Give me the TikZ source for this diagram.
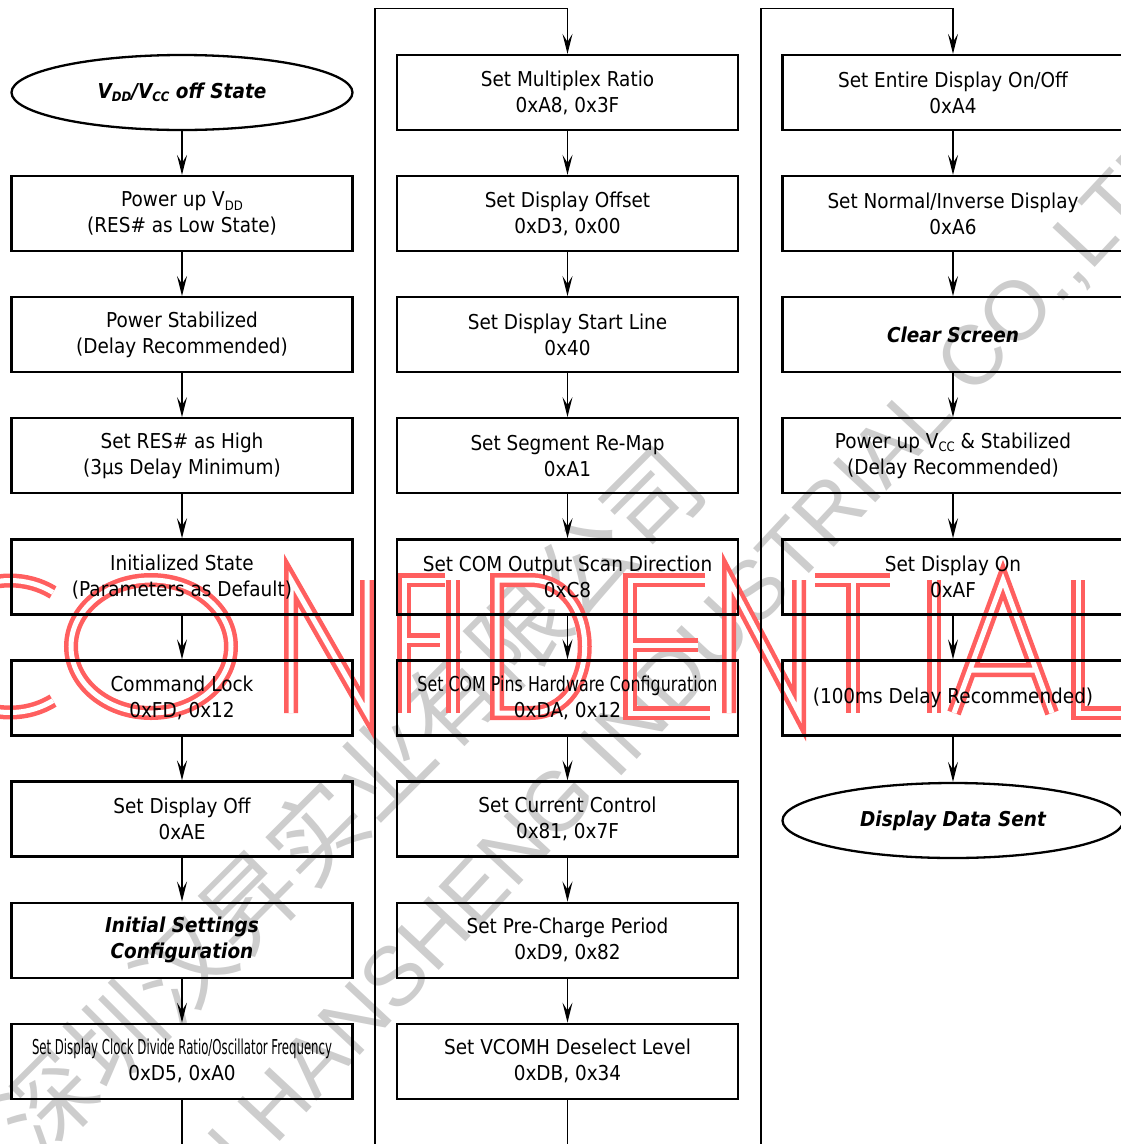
\documentclass[tikz,border=0pt]{standalone}
\usepackage{fontspec}
\usepackage{graphicx}
\setmainfont{DejaVu Sans}[FakeStretch=0.9]
\newfontfamily\cjkfont{Noto Sans CJK SC}
\newfontfamily\wmfont{Liberation Sans}
\usetikzlibrary{arrows.meta,shapes.geometric}
\definecolor{wmred}{RGB}{255,95,95}
\definecolor{wmgray}{RGB}{205,205,205}
\newcommand\subsc[1]{\raisebox{-0.3ex}{\fontsize{13}{13}\selectfont #1}}
\tikzset{
  box/.style={draw, line width=2.3pt, minimum width=341pt, minimum height=75pt, inner sep=0pt, align=center, font=\fontsize{20.5}{26}\selectfont},
  bibox/.style={box, font=\fontsize{20.5}{26}\selectfont\bfseries\itshape},
  term/.style={ellipse, draw, line width=2.3pt, minimum width=341pt, minimum height=75pt, inner sep=0pt, align=center, font=\fontsize{20.5}{26}\selectfont\bfseries\itshape},
  flow/.style={line width=1.6pt, -{Stealth[length=20pt,width=10pt,inset=8pt]}},
  plainline/.style={line width=1.6pt},
  wm/.style={draw=wmred, line width=4.5pt, double=white, double distance=5pt, line join=miter},
}
\begin{document}
\begin{tikzpicture}[x=1pt,y=-1pt]
\useasboundingbox (0,0) rectangle (1121,1144);
\begin{scope}
\clip (0,0) rectangle (1121,1144);
% grey watermark
\node[rotate=45, inner sep=0pt, text=wmgray, font=\cjkfont\fontsize{95}{95}\selectfont] (wmcn) at (350,800) {深圳汉昇实业有限公司};
\node[rotate=47, anchor=west, inner sep=0pt, text=wmgray, font=\wmfont\fontsize{84}{84}\selectfont] (wmen) at (-73,1485) {SHENZHEN HANSHENG INDUSTRIAL CO.,LTD};
% red CONFIDENTIAL
\draw[wm] (10,646.5) ++(55:75 and 66) arc[start angle=55, end angle=305, x radius=75, y radius=66];
\draw[wm] (151,646.5) ellipse[x radius=80, y radius=66.5];
\draw[wm] (291,713)--(291,580)--(367,713)--(367,580);
\draw[wm] (445,580)--(404,580)--(404,713) (404,640)--(440,640);
\draw[wm] (453,580)--(453,713);
\draw[wm] (497,580)--(530,580) .. controls (603,580) and (603,713) .. (530,713) -- (497,713) -- cycle;
\draw[wm] (705,580)--(630,580)--(630,713)--(710,713) (630,645)--(698,645);
\draw[wm] (729,713)--(729,580)--(799,713)--(799,580);
\draw[wm] (815,580)--(890,580) (853,580)--(853,713);
\draw[wm] (934,580)--(934,713);
\draw[wm] (954,713)--(1003,580)--(1052,713) (971,670)--(1035,670);
\draw[wm] (1078,580)--(1078,713)--(1140,713);

% column 1
\node[term] (a0) at (182,92.5) {V\subsc{DD}/V\subsc{CC} off State};
\node[box] (a1) at (182,213.6) {Power up V\subsc{DD}\\(RES\# as Low State)};
\node[box] (a2) at (182,334.7) {Power Stabilized\\(Delay Recommended)};
\node[box] (a3) at (182,455.8) {Set RES\# as High\\(3µs Delay Minimum)};
\node[box] (a4) at (182,576.9) {Initialized State\\(Parameters as Default)};
\node[box] (a5) at (182,698.0) {Command Lock\\0xFD, 0x12};
\node[box] (a6) at (182,819.1) {Set Display Off\\0xAE};
\node[bibox] (a7) at (182,940.2) {Initial Settings\\Configuration};
\node[box] (a8) at (182,1061.3) {\resizebox{300pt}{\height}{Set Display Clock Divide Ratio/Oscillator Frequency}\\0xD5, 0xA0};
% column 2
\node[box] (b0) at (567.5,92.5) {Set Multiplex Ratio\\0xA8, 0x3F};
\node[box] (b1) at (567.5,213.6) {Set Display Offset\\0xD3, 0x00};
\node[box] (b2) at (567.5,334.7) {Set Display Start Line\\0x40};
\node[box] (b3) at (567.5,455.8) {Set Segment Re-Map\\0xA1};
\node[box] (b4) at (567.5,576.9) {Set COM Output Scan Direction\\0xC8};
\node[box] (b5) at (567.5,698.0) {\resizebox{300pt}{\height}{Set COM Pins Hardware Configuration}\\0xDA, 0x12};
\node[box] (b6) at (567.5,819.1) {Set Current Control\\0x81, 0x7F};
\node[box] (b7) at (567.5,940.2) {Set Pre-Charge Period\\0xD9, 0x82};
\node[box] (b8) at (567.5,1061.3) {Set VCOMH Deselect Level\\0xDB, 0x34};
% column 3
\node[box] (d0) at (953,92.5) {Set Entire Display On/Off\\0xA4};
\node[box] (d1) at (953,213.6) {Set Normal/Inverse Display\\0xA6};
\node[bibox] (d2) at (953,334.7) {Clear Screen};
\node[box] (d3) at (953,455.8) {Power up V\subsc{CC} \& Stabilized\\(Delay Recommended)};
\node[box] (d4) at (953,576.9) {Set Display On\\0xAF};
\node[box] (d5) at (953,698.0) {(100ms Delay Recommended)};
\node[term] (d6) at (953,820.5) {Display Data Sent};

% connectors
\foreach \p/\q in {a0/a1,a1/a2,a2/a3,a3/a4,a4/a5,a5/a6,a6/a7,a7/a8,
                   b0/b1,b1/b2,b2/b3,b3/b4,b4/b5,b5/b6,b6/b7,b7/b8,
                   d0/d1,d1/d2,d2/d3,d3/d4,d4/d5,d5/d6}
  \draw[flow] (\p) -- (\q);
\coordinate (c1b) at (182,1160);
\coordinate (c2b) at (567.5,1160);
\coordinate (l2b) at (375,1160);
\coordinate (l2t) at (375,8.3);
\coordinate (l3b) at (761,1160);
\coordinate (l3t) at (761,8.3);
\draw[plainline] (a8) -- (c1b);
\draw[plainline] (b8) -- (c2b);
\draw[flow] (l2b) -- (l2t) -| (b0);
\draw[flow] (l3b) -- (l3t) -| (d0);
\end{scope}
\end{tikzpicture}
\end{document}
